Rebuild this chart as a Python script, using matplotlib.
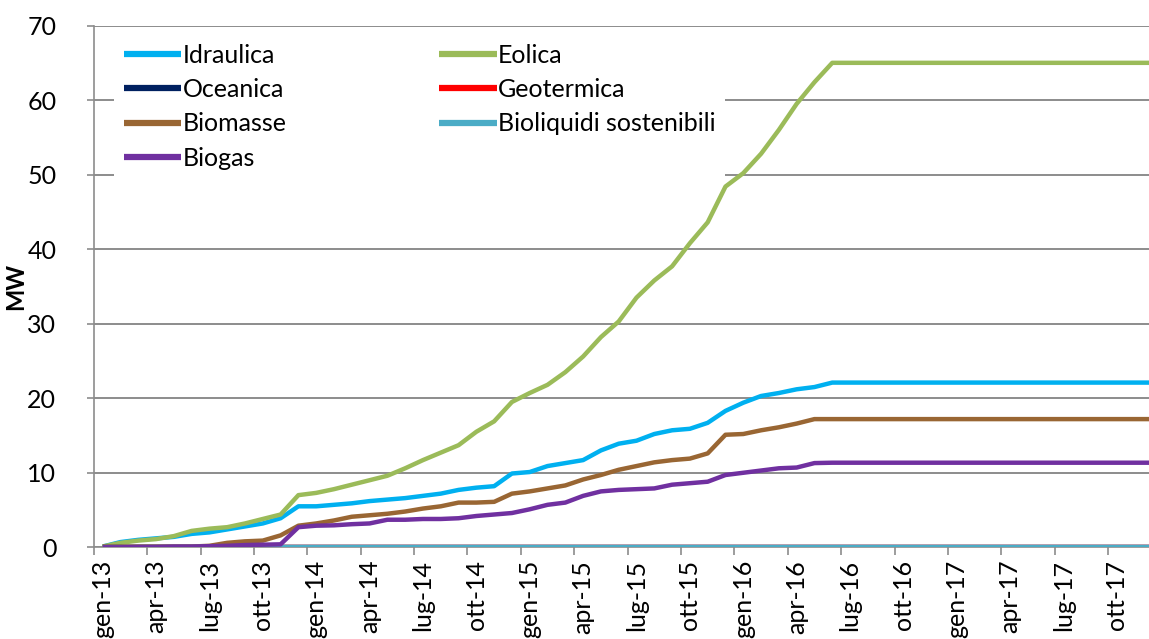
import numpy as np
import matplotlib
matplotlib.use('Agg')
import matplotlib.pyplot as plt
from matplotlib.ticker import FixedLocator

plt.rcParams['font.family'] = ['Lato', 'DejaVu Sans']

# categorie mensili gen-13 ... dic-17
mesi = ['gen', 'feb', 'mar', 'apr', 'mag', 'giu', 'lug', 'ago', 'set', 'ott', 'nov', 'dic']
anni = ['13', '14', '15', '16', '17']
months = [f'{m}-{a}' for a in anni for m in mesi]

idraulica = [0.1, 0.7, 1.0, 1.2, 1.4, 1.8, 2.0, 2.4, 2.8, 3.2, 3.9, 5.5,
             5.5, 5.7, 5.9, 6.2, 6.4, 6.6, 6.9, 7.2, 7.7, 8.0, 8.2, 9.9,
             10.1, 10.9, 11.3, 11.7, 13.0, 13.9, 14.3, 15.2, 15.7, 15.9, 16.7, 18.3,
             19.4, 20.3, 20.7, 21.2, 21.5, 22.1, 22.1, 22.1, 22.1, 22.1, 22.1, 22.1,
             22.1, 22.1, 22.1, 22.1, 22.1, 22.1, 22.1, 22.1, 22.1, 22.1, 22.1, 22.1]
eolica = [0.1, 0.6, 0.9, 1.1, 1.5, 2.2, 2.5, 2.7, 3.2, 3.8, 4.4, 7.0,
          7.3, 7.8, 8.4, 9.0, 9.6, 10.6, 11.7, 12.7, 13.7, 15.5, 16.9, 19.5,
          20.7, 21.8, 23.5, 25.6, 28.2, 30.3, 33.5, 35.8, 37.7, 40.8, 43.6, 48.4,
          50.2, 52.8, 56.0, 59.5, 62.4, 65.0, 65.0, 65.0, 65.0, 65.0, 65.0, 65.0,
          65.0, 65.0, 65.0, 65.0, 65.0, 65.0, 65.0, 65.0, 65.0, 65.0, 65.0, 65.0]
oceanica = [0.0] * 60
geotermica = [0.0] * 60
biomasse = [0.1, 0.1, 0.1, 0.1, 0.1, 0.1, 0.2, 0.6, 0.8, 0.9, 1.6, 2.9,
            3.2, 3.6, 4.1, 4.3, 4.5, 4.8, 5.2, 5.5, 6.0, 6.0, 6.1, 7.2,
            7.5, 7.9, 8.3, 9.1, 9.7, 10.4, 10.9, 11.4, 11.7, 11.9, 12.6, 15.1,
            15.2, 15.7, 16.1, 16.6, 17.2, 17.2, 17.2, 17.2, 17.2, 17.2, 17.2, 17.2,
            17.2, 17.2, 17.2, 17.2, 17.2, 17.2, 17.2, 17.2, 17.2, 17.2, 17.2, 17.2]
bioliquidi = [0.0] * 60
biogas = [0.0, 0.0, 0.05, 0.05, 0.1, 0.1, 0.15, 0.2, 0.3, 0.35, 0.4, 2.7,
          2.9, 2.95, 3.1, 3.2, 3.7, 3.7, 3.8, 3.8, 3.9, 4.2, 4.4, 4.6,
          5.1, 5.7, 6.0, 6.9, 7.5, 7.7, 7.8, 7.9, 8.4, 8.6, 8.8, 9.7,
          10.0, 10.3, 10.6, 10.7, 11.3, 11.35, 11.35, 11.35, 11.35, 11.35, 11.35, 11.35,
          11.35, 11.35, 11.35, 11.35, 11.35, 11.35, 11.35, 11.35, 11.35, 11.35, 11.35, 11.35]

series = [
    ('Idraulica', idraulica, '#00B0F0'),
    ('Eolica', eolica, '#9BBB59'),
    ('Oceanica', oceanica, '#002060'),
    ('Geotermica', geotermica, '#FF0000'),
    ('Biomasse', biomasse, '#996633'),
    ('Bioliquidi sostenibili', bioliquidi, '#4BACC6'),
    ('Biogas', biogas, '#7030A0'),
]

fig = plt.figure(figsize=(11.49, 6.39), dpi=100)
ax = fig.add_axes([0.0816, 0.1435, 0.9184, 0.8165])

x = np.arange(len(months))
handles = {}
for name, vals, col in series:
    h, = ax.plot(x, vals, color=col, lw=3.2, label=name, solid_capstyle='butt', zorder=3)
    handles[name] = h

ax.set_xlim(-0.5, 58.8)
ax.set_ylim(0, 70)
ax.set_yticks(range(0, 71, 10))
ax.grid(axis='y', color='#8C8C8C', lw=1.4)
ax.set_axisbelow(True)

# etichette ogni 3 mesi, tacche ai bordi delle categorie
ax.set_xticks(x[::3])
ax.set_xticklabels(months[::3], rotation=90, fontsize=18)
ax.xaxis.set_minor_locator(FixedLocator(np.arange(-0.5, 60, 3)))
ax.tick_params(axis='x', which='major', length=0, pad=9)
ax.tick_params(axis='x', which='minor', length=6, width=1.2, color='#8C8C8C')
ax.tick_params(axis='y', length=5, width=1.2, color='#8C8C8C', labelsize=18, pad=22)

for s in ['top', 'right']:
    ax.spines[s].set_visible(False)
for s in ['left', 'bottom']:
    ax.spines[s].set_color('#8C8C8C')
    ax.spines[s].set_linewidth(1.2)

ax.set_ylabel('MW', fontsize=17, fontweight='bold')
ax.yaxis.set_label_coords(-0.063, 0.5)

order = ['Idraulica', 'Oceanica', 'Biomasse', 'Biogas', 'Eolica', 'Geotermica', 'Bioliquidi sostenibili']
leg = ax.legend([handles[n] for n in order], order, ncol=2, loc='upper left',
                bbox_to_anchor=(0.0073, 1.008), frameon=True, fancybox=False, edgecolor='none',
                facecolor='white', framealpha=1, fontsize=18, handlelength=2.3,
                handletextpad=0.05, columnspacing=6.1, labelspacing=0.45, borderpad=0.4)
for l in leg.get_lines():
    l.set_linewidth(4.5)
leg.set_zorder(2.5)

fig.savefig('out.png', dpi=100)
